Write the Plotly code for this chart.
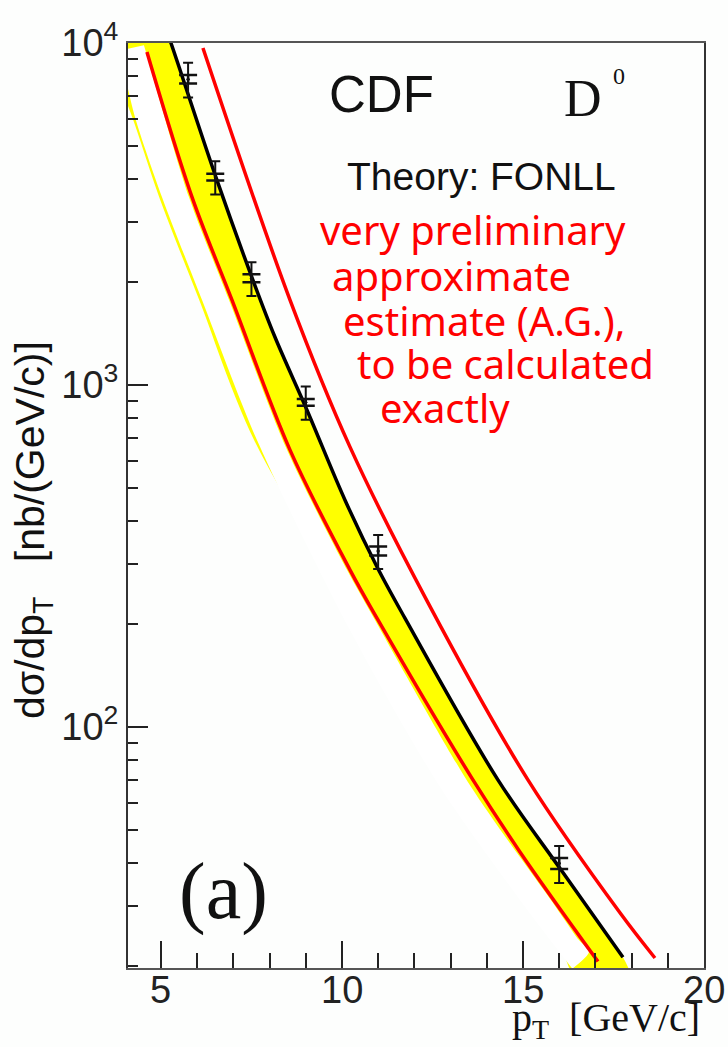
import plotly.graph_objects as go

# ---- CDF D0 measurement ----
pt = [5.75, 6.5, 7.5, 9.0, 11.0, 16.0]
xsec = [7837, 4056, 2052, 890, 327, 39.9]
stat = [220, 93, 56, 20, 10, 1.5]
syst = [884, 441, 224, 97, 36, 4.7]
total = [(a * a + b * b) ** 0.5 for a, b in zip(stat, syst)]

# ---- FONLL central curve ----
fonll_pt = [5.20, 5.276, 6.547, 7.541, 8.149, 9.033, 10.083, 10.967, 11.740, 14.309, 16.050, 17.762]
fonll_xs = [10500, 10000, 3972, 2026, 1381, 845, 461, 294, 208, 70.0, 38.2, 21.2]

# upper edge of the uncertainty band (follows the central curve down to the axis)
band_hi_pt = fonll_pt + [17.95]
band_hi_xs = fonll_xs + [19.3]
# lower edge of the uncertainty band
band_lo_pt = [3.38, 3.757, 4.227, 4.972, 6.077, 7.597, 10.72, 13.20, 15.47, 16.36]
band_lo_xs = [10800, 8166, 6079, 3548, 1774, 690, 192, 66.8, 31.2, 18.9]

# white over-painted stroke (left and right edges)
wipe_l_pt = [3.84, 3.95, 4.282, 5.028, 6.133, 7.652, 10.221, 12.707, 14.917, 16.354]
wipe_l_xs = [9500, 8510, 6079, 3548, 1774, 690, 192, 66.8, 31.2, 19.7]
wipe_r_pt = [4.53, 4.60, 5.773, 6.878, 8.481, 10.138, 10.884, 13.564, 15.773, 16.547, 16.823, 16.381]
wipe_r_xs = [9850, 9300, 3548, 1774, 646, 288, 208, 66.8, 31.2, 23.8, 22.0, 19.7]

# hand-drawn estimate: lower and upper red curves
est_lo_pt = [4.613, 5.856, 6.961, 8.564, 10.221, 10.967, 13.619, 14.917, 17.072]
est_lo_xs = [9412, 3548, 1774, 646, 288, 208, 70.0, 43.1, 20.6]
est_hi_pt = [6.160, 8.564, 10.221, 12.376, 15.138, 17.680, 18.646]
est_hi_xs = [9670, 1774, 659, 231, 70.0, 28.6, 21.1]

# axis ticks
x_major = [5, 10, 15, 20]
x_minor = [6, 7, 8, 9, 11, 12, 13, 14, 16, 17, 18, 19]
y_major = [100, 1000, 10000]
y_major_text = ["10<sup>2</sup>", "10<sup>3</sup>", "10<sup>4</sup>"]
y_minor = [20, 30, 40, 50, 60, 70, 80, 90,
           200, 300, 400, 500, 600, 700, 800, 900,
           2000, 3000, 4000, 5000, 6000, 7000, 8000, 9000]

YELLOW = "#ffff00"
RED = "#ff0000"
BG = "#fdfefd"

fig = go.Figure()

# uncertainty band
fig.add_trace(go.Scatter(x=band_lo_pt, y=band_lo_xs, mode="lines",
                         line=dict(color=YELLOW, width=1.5, shape="spline"), hoverinfo="skip"))
fig.add_trace(go.Scatter(x=band_hi_pt, y=band_hi_xs, mode="lines", fill="tonexty",
                         fillcolor=YELLOW, line=dict(color=YELLOW, width=0, shape="spline"),
                         hoverinfo="skip"))
# white stroke
fig.add_trace(go.Scatter(x=wipe_l_pt, y=wipe_l_xs, mode="lines",
                         line=dict(color="white", width=0, shape="spline", smoothing=0.8),
                         hoverinfo="skip"))
fig.add_trace(go.Scatter(x=wipe_r_pt, y=wipe_r_xs, mode="lines", fill="tonexty",
                         fillcolor="white",
                         line=dict(color="white", width=0, shape="spline", smoothing=0.8),
                         hoverinfo="skip"))
# red estimate curves
fig.add_trace(go.Scatter(x=est_lo_pt, y=est_lo_xs, mode="lines",
                         line=dict(color=RED, width=3.5, shape="spline")))
fig.add_trace(go.Scatter(x=est_hi_pt, y=est_hi_xs, mode="lines",
                         line=dict(color=RED, width=3.5, shape="spline")))
# FONLL central
fig.add_trace(go.Scatter(x=fonll_pt, y=fonll_xs, mode="lines",
                         line=dict(color="black", width=3.5, shape="spline")))

# data: total and statistical error bars
fig.add_trace(go.Scatter(x=pt, y=xsec, mode="markers",
                         marker=dict(color="#111", size=3),
                         error_y=dict(type="data", array=total, color="#111",
                                      thickness=2, width=5)))
fig.add_trace(go.Scatter(x=pt, y=xsec, mode="markers",
                         marker=dict(color="#111", size=3),
                         error_y=dict(type="data", array=stat, color="#111",
                                      thickness=2.5, width=9)))

sans = "Liberation Sans, Arial, sans-serif"
serif = "Liberation Serif, Times New Roman, serif"
hand = "Noto Sans, sans-serif"

fig.update_layout(
    width=728, height=1047,
    margin=dict(l=128, r=24, t=43, b=79),
    paper_bgcolor=BG, plot_bgcolor=BG,
    showlegend=False,
    xaxis=dict(range=[4.09, 20.001], showgrid=False, zeroline=False,
               tickmode="array", tickvals=x_major, showticklabels=False,
               ticks="inside", ticklen=27, tickwidth=2, tickcolor="#222",
               minor=dict(tickmode="array", tickvals=x_minor, ticks="inside",
                          ticklen=15, tickwidth=2, tickcolor="#222", showgrid=False),
               showline=True, linecolor="#555", linewidth=2, mirror=True),
    yaxis=dict(type="log", range=[1.295, 4.0], showgrid=False, zeroline=False,
               tickmode="array", tickvals=y_major, ticktext=y_major_text,
               ticks="inside", ticklen=20, tickwidth=2, tickcolor="#222",
               minor=dict(tickmode="array", tickvals=y_minor, ticks="inside",
                          ticklen=10, tickwidth=2, tickcolor="#222", showgrid=False),
               showline=True, linecolor="#333", linewidth=2, mirror=True,
               tickfont=dict(family=sans, size=38, color="#222")),
)

W, H, L, T = 576.0, 925.0, 128.0, 43.0


def px(x):
    return (x - L) / W


def py(y):
    return 1 - (y - T) / H


def note(text, x, y, size, family, color="#111", xanchor="left", angle=0):
    fig.add_annotation(text=text, x=px(x), y=py(y), xref="paper", yref="paper",
                       showarrow=False, xanchor=xanchor, yanchor="middle",
                       textangle=angle, font=dict(family=family, size=size, color=color))


# x tick labels, placed right under the axis line
for v in x_major:
    fig.add_annotation(text=str(v), x=v, y=py(990), xref="x", yref="paper",
                       showarrow=False, xanchor="center", yanchor="middle",
                       font=dict(family=sans, size=38, color="#222"))

note("CDF", 327, 95, 51, sans)
note("D", 562, 98, 52, serif)
note("0", 611, 76, 24, serif)
note("Theory: FONLL", 345, 177, 39, sans)

note("very preliminary", 318, 230, 40, hand, RED)
note("approximate", 330, 275, 40, hand, RED)
note("estimate (A.G.),", 341, 320, 40, hand, RED)
note("to be calculated", 355, 363, 40, hand, RED)
note("exactly", 378, 408, 40, hand, RED)

note("(a)", 177, 891, 80, serif)
note("p<sub>T</sub>  [GeV/c]", 702, 1020, 40, serif, xanchor="right")
note("dσ/dp<sub>T</sub>   [nb/(GeV/c)]", 33, 530, 41, sans, xanchor="center", angle=-90)

fig.write_html("out.html")
